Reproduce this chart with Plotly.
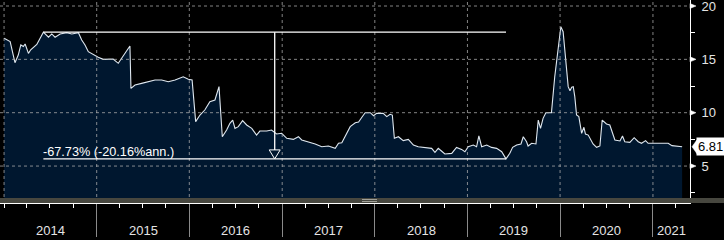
import plotly.graph_objects as go
import pandas as pd

# ---------------- data ----------------
dates = [
    "2014-01-01", "2014-01-25", "2014-02-13", "2014-02-26", "2014-03-08", "2014-03-18", "2014-03-25",
    "2014-04-07", "2014-04-16", "2014-05-10", "2014-06-05", "2014-06-25", "2014-07-08", "2014-07-21",
    "2014-08-10", "2014-09-05", "2014-09-25", "2014-10-21", "2014-11-03", "2014-11-16", "2014-11-29",
    "2014-12-19", "2015-01-07", "2015-01-27", "2015-03-07", "2015-03-27", "2015-04-22", "2015-05-12",
    "2015-05-16", "2015-06-01", "2015-06-27", "2015-07-23", "2015-08-19", "2015-09-14", "2015-10-10",
    "2015-11-06", "2015-12-08", "2015-12-28", "2016-01-12", "2016-01-26", "2016-02-12", "2016-03-02",
    "2016-03-22", "2016-04-11", "2016-04-27", "2016-05-10", "2016-05-27", "2016-06-09", "2016-06-20",
    "2016-06-29", "2016-07-12", "2016-07-29", "2016-08-14", "2016-09-03", "2016-09-22", "2016-10-05",
    "2016-11-01", "2016-11-20", "2016-12-10", "2016-12-30", "2017-01-19", "2017-02-14", "2017-03-06",
    "2017-03-19", "2017-04-14", "2017-05-11", "2017-06-06", "2017-07-02", "2017-07-29", "2017-08-11",
    "2017-08-24", "2017-09-06", "2017-09-26", "2017-10-16", "2017-10-29", "2017-11-11", "2017-11-24",
    "2017-12-14", "2017-12-27", "2018-01-08", "2018-02-03", "2018-02-17", "2018-03-02", "2018-03-11",
    "2018-03-19", "2018-04-04", "2018-04-23", "2018-05-13", "2018-06-02", "2018-06-21", "2018-07-18",
    "2018-08-13", "2018-08-26", "2018-09-08", "2018-09-24", "2018-10-04", "2018-10-31", "2018-11-19",
    "2018-12-09", "2018-12-22", "2019-01-04", "2019-01-24", "2019-02-06", "2019-02-15", "2019-02-26",
    "2019-03-18", "2019-04-06", "2019-04-26", "2019-05-16", "2019-06-02", "2019-06-17", "2019-06-28",
    "2019-07-14", "2019-07-31", "2019-08-09", "2019-08-22", "2019-08-28", "2019-09-11", "2019-09-28",
    "2019-10-07", "2019-10-16", "2019-10-26", "2019-11-06", "2019-11-28", "2019-12-11", "2019-12-24",
    "2020-01-04", "2020-01-13", "2020-01-24", "2020-02-02", "2020-02-09", "2020-02-16", "2020-02-22",
    "2020-02-28", "2020-03-06", "2020-03-15", "2020-03-26", "2020-04-04", "2020-04-10", "2020-04-21",
    "2020-05-10", "2020-05-24", "2020-06-06", "2020-06-15", "2020-07-02", "2020-07-15", "2020-08-04",
    "2020-08-24", "2020-09-03", "2020-09-12", "2020-10-02", "2020-10-19", "2020-11-04", "2020-11-17",
    "2020-12-03", "2020-12-13", "2021-01-09", "2021-03-02", "2021-03-17", "2021-04-10", "2021-04-26",
]
values = [
    16.97, 16.66, 14.69, 15.40, 16.35, 16.20, 16.44,
    15.56, 15.90, 16.40, 17.55, 17.07, 17.38, 17.07,
    17.38, 17.50, 17.38, 17.50, 16.81, 16.34, 15.72,
    15.41, 15.19, 15.00, 15.03, 14.63, 15.56, 16.25,
    12.28, 12.60, 12.75, 12.90, 13.06, 13.06, 12.90,
    13.06, 13.37, 13.13, 13.06, 9.16, 9.78, 10.25,
    11.03, 11.19, 12.44, 7.75, 8.38, 9.00, 9.31,
    8.53, 8.69, 9.25, 8.85, 8.53, 7.90, 8.28,
    8.28, 8.38, 8.00, 8.07, 7.60, 7.50, 7.75,
    7.44, 7.28, 7.07, 6.81, 6.88, 6.66, 7.13,
    7.19, 7.75, 8.69, 9.06, 9.13, 9.57, 10.00,
    10.00, 9.72, 9.94, 9.94, 9.63, 9.85, 9.78,
    7.60, 7.75, 7.38, 7.50, 6.97, 6.81, 6.72,
    6.66, 6.29, 6.66, 6.34, 6.13, 6.19, 6.75,
    6.56, 6.34, 6.81, 6.97, 6.81, 7.82, 6.81,
    6.97, 6.75, 6.66, 6.34, 5.67, 6.19, 6.75,
    6.97, 7.07, 7.75, 7.28, 6.88, 7.13, 7.07,
    9.31, 8.53, 9.47, 10.00, 10.00, 13.37, 16.19,
    18.06, 17.59, 14.63, 12.44, 12.06, 12.38, 12.44,
    11.50, 9.78, 9.63, 8.07, 8.63, 8.00, 7.90,
    7.07, 6.75, 6.88, 9.31, 8.94, 8.85, 7.44,
    7.35, 7.82, 7.28, 7.22, 7.66, 7.28, 7.13,
    7.38, 7.13, 7.13, 7.13, 6.91, 6.88, 6.81,
]

peak_date = "2014-06-05"
peak_value = 17.55
trough_date = "2019-06-02"
trough_value = 5.67
drawdown_text = "-67.73% (-20.16%ann.)"
last_value_text = "6.81"

year_starts = ["2014-01-01", "2015-01-01", "2016-01-01", "2017-01-01", "2018-01-01",
               "2019-01-01", "2020-01-01", "2021-01-01"]
year_labels = ["2014", "2015", "2016", "2017", "2018", "2019", "2020", "2021"]
y_major = [5, 10, 15, 20]

x_range = ["2013-12-16", "2021-05-27"]
y_range = [1.537, 20.562]

# ---------------- styles ----------------
W, H = 724, 240
M_L, M_R, M_T, M_B = 0, 34, 0, 37
PLOT_W = W - M_L - M_R
PLOT_H = H - M_T - M_B
FONT = "Liberation Sans, Arial, sans-serif"
FILL = "#00172f"
LINE = "#dfe8f0"
TXT = "#e4e4e4"

px_per_unit = PLOT_H / (y_range[1] - y_range[0])
x0_ts, x1_ts = pd.Timestamp(x_range[0]), pd.Timestamp(x_range[1])
days_per_px = (x1_ts - x0_ts).days / PLOT_W

fig = go.Figure()
fig.add_trace(go.Scatter(
    x=dates, y=values, mode="lines",
    line=dict(color=LINE, width=1.1),
    fill="tozeroy", fillcolor=FILL,
    hoverinfo="skip", showlegend=False,
))

# drawdown arrow head (hollow triangle)
mid = pd.Timestamp(peak_date) + (pd.Timestamp(trough_date) - pd.Timestamp(peak_date)) / 2
half_w = pd.Timedelta(days=5.5 * days_per_px)
tri_h = 9 / px_per_unit
fig.add_trace(go.Scatter(
    x=[mid - half_w, mid + half_w, mid, mid - half_w],
    y=[trough_value + tri_h, trough_value + tri_h, trough_value, trough_value + tri_h],
    mode="lines", fill="toself", fillcolor=FILL,
    line=dict(color="white", width=1), hoverinfo="skip", showlegend=False,
))

shapes = []
grid_style = dict(color="rgba(175,175,175,0.75)", width=1, dash="3px,3px")
for v in y_major:
    shapes.append(dict(type="line", xref="paper", yref="y", x0=0, x1=1, y0=v, y1=v,
                       line=grid_style, layer="above"))
for d in year_starts:
    shapes.append(dict(type="line", xref="x", yref="paper", x0=d, x1=d, y0=0, y1=1,
                       line=grid_style, layer="above"))

# drawdown lines
shapes.append(dict(type="line", xref="x", yref="y", x0=peak_date, x1=trough_date,
                   y0=peak_value, y1=peak_value, line=dict(color="white", width=1.3), layer="above"))
shapes.append(dict(type="line", xref="x", yref="y", x0=peak_date, x1=trough_date,
                   y0=trough_value, y1=trough_value, line=dict(color="white", width=1.3), layer="above"))
shapes.append(dict(type="line", xref="x", yref="y", x0=mid, x1=mid,
                   y0=peak_value, y1=trough_value + tri_h, line=dict(color="white", width=1.3),
                   layer="above"))

# bottom scroll band
band_h = 5 / PLOT_H
shapes.append(dict(type="rect", xref="paper", yref="paper", x0=0, x1=(W - M_L) / PLOT_W,
                   y0=0, y1=band_h, fillcolor="#47473f", line=dict(width=0), layer="above"))
for gy in (1.5, 3.5):
    shapes.append(dict(type="line", xref="paper", yref="paper", x0=362 / PLOT_W, x1=377 / PLOT_W,
                       y0=gy / PLOT_H, y1=gy / PLOT_H, line=dict(color="#a0a098", width=1),
                       layer="above"))

# right-axis triangle markers
tw = 6 / PLOT_W
th = 2.5 / px_per_unit
for v in y_major:
    shapes.append(dict(type="path", xref="paper", yref="y",
                       path=f"M 1,{v + th} L {1 + tw},{v} L 1,{v - th} Z",
                       fillcolor="white", line=dict(color="white", width=0.5), layer="above"))

# last value pointer
lv = values[-1]
ph = 7 / px_per_unit
shapes.append(dict(type="path", xref="paper", yref="y",
                   path=f"M {1 + 2 / PLOT_W},{lv} L {1 + 7 / PLOT_W},{lv + ph} L {1 + 7 / PLOT_W},{lv - ph} Z",
                   fillcolor="white", line=dict(color="white", width=0.5), layer="above"))

annotations = []
# year labels centered on the visible part of each year
bounds = [pd.Timestamp(d) for d in year_starts] + [x1_ts]
for i, lab in enumerate(year_labels):
    a = max(bounds[i], x0_ts)
    b = min(bounds[i + 1], x1_ts)
    c = a + (b - a) / 2
    annotations.append(dict(x=c, y=0, xref="x", yref="paper", text=lab, showarrow=False,
                            xanchor="center", yanchor="middle", yshift=-27,
                            font=dict(family=FONT, size=13, color=TXT)))

annotations.append(dict(x=peak_date, y=trough_value, xref="x", yref="y", text=drawdown_text,
                        showarrow=False, xanchor="left", yanchor="bottom", xshift=-2, yshift=-2,
                        font=dict(family=FONT, size=12.7, color="white")))

annotations.append(dict(x=1, y=lv, xref="paper", yref="y", text=last_value_text, showarrow=False,
                        xanchor="left", yanchor="middle", xshift=6, bgcolor="white", borderpad=1,
                        font=dict(family=FONT, size=13, color="black")))

fig.update_layout(
    width=W, height=H,
    margin=dict(l=M_L, r=M_R, t=M_T, b=M_B),
    paper_bgcolor="black", plot_bgcolor="black",
    showlegend=False,
    shapes=shapes, annotations=annotations,
    xaxis=dict(
        type="date", range=x_range, showgrid=False, zeroline=False,
        showline=True, linecolor="white", linewidth=1,
        tickmode="array", tickvals=year_starts[1:], showticklabels=False,
        ticks="outside", ticklen=33, tickcolor="#8a8a8a", tickwidth=1,
        minor=dict(ticks="outside", ticklen=4, tickcolor="white", dtick="M3",
                   tick0="2014-01-01", showgrid=False),
    ),
    yaxis=dict(
        side="right", range=y_range, showgrid=False, zeroline=False,
        showline=True, linecolor="white", linewidth=1,
        tickmode="array", tickvals=y_major, automargin=False,
        ticklabeloverflow="allow",
        ticks="outside", ticklen=8, tickcolor="rgba(0,0,0,0)",
        tickfont=dict(family=FONT, size=13, color=TXT),
        minor=dict(ticks="outside", ticklen=4, tickcolor="white", dtick=5, tick0=2.5,
                   showgrid=False),
    ),
)

fig.write_html("out.html", config={"displayModeBar": False},
               post_script="document.body.style.margin='0px';document.body.style.overflow='hidden';")
